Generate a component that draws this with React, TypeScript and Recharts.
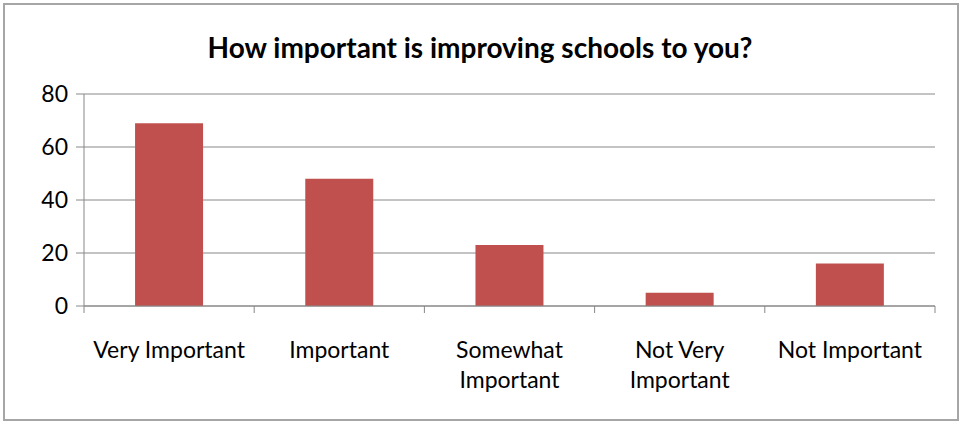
import { Bar, BarChart, CartesianGrid, XAxis, YAxis } from "recharts";

// survey answers
const categories = [
  "Very Important",
  "Important",
  "Somewhat Important",
  "Not Very Important",
  "Not Important",
];
const tickLines = [
  ["Very Important"],
  ["Important"],
  ["Somewhat", "Important"],
  ["Not Very", "Important"],
  ["Not Important"],
];
const counts = [69, 48, 23, 5, 16];
const yTicks = [0, 20, 40, 60, 80];

const W = 963;
const H = 425;
const LEFT = 84;
const RIGHT = 28;
const TOP = 94;
const BOTTOM = 119;
const BAND = (W - LEFT - RIGHT) / categories.length;
const GRID = "#888888";
const FONT = "Lato, 'Open Sans', sans-serif";

const data = categories.map((c, i) => ({ name: c, value: counts[i] }));

const CategoryTick = (props: any) => {
  const { x, y, payload, index } = props;
  const idx = payload.index ?? index;
  const lines = tickLines[idx] || [payload.value];
  const last = idx === categories.length - 1;
  return (
    <g>
      <line x1={x - BAND / 2} x2={x - BAND / 2} y1={y} y2={y + 7} stroke={GRID} />
      {last && (
        <line x1={x + BAND / 2} x2={x + BAND / 2} y1={y} y2={y + 7} stroke={GRID} />
      )}
      {lines.map((l: string, i: number) => (
        <text
          key={i}
          x={x}
          y={y + 52 + i * 30}
          textAnchor="middle"
          fill="#000"
          fontSize={23}
          fontFamily={FONT}
        >
          {l}
        </text>
      ))}
    </g>
  );
};

const App = () => {
  return (
    <div
      style={{
        position: "absolute",
        left: 0,
        top: 0,
        width: W,
        height: H,
        background: "#fff",
        fontFamily: FONT,
      }}
    >
      <div
        style={{
          position: "absolute",
          left: 3,
          top: 3,
          width: W - 7,
          height: H - 7,
          border: "2px solid #a6a6a6",
          boxSizing: "border-box",
        }}
      />
      <div
        style={{
          position: "absolute",
          left: 0,
          top: 29,
          width: 960,
          textAlign: "center",
          fontSize: 28,
          lineHeight: "36px",
          fontWeight: "bold",
          color: "#000",
        }}
      >
        How important is improving schools to you?
      </div>
      <BarChart
        width={W}
        height={H}
        data={data}
        margin={{ top: TOP, right: RIGHT, bottom: 0, left: 0 }}
        barCategoryGap="30%"
      >
        <CartesianGrid vertical={false} stroke={GRID} />
        <XAxis
          dataKey="name"
          height={BOTTOM}
          interval={0}
          axisLine={{ stroke: GRID }}
          tickLine={false}
          tickSize={0}
          tickMargin={0}
          tick={<CategoryTick />}
        />
        <YAxis
          width={LEFT}
          domain={[0, 80]}
          ticks={yTicks}
          axisLine={{ stroke: GRID }}
          tickLine={{ stroke: GRID }}
          tickSize={8}
          tickMargin={8}
          tick={{ fill: "#000", fontSize: 23, fontFamily: FONT }}
        />
        <Bar dataKey="value" fill="#C0504D" isAnimationActive={false} />
      </BarChart>
    </div>
  );
};

export default App;
